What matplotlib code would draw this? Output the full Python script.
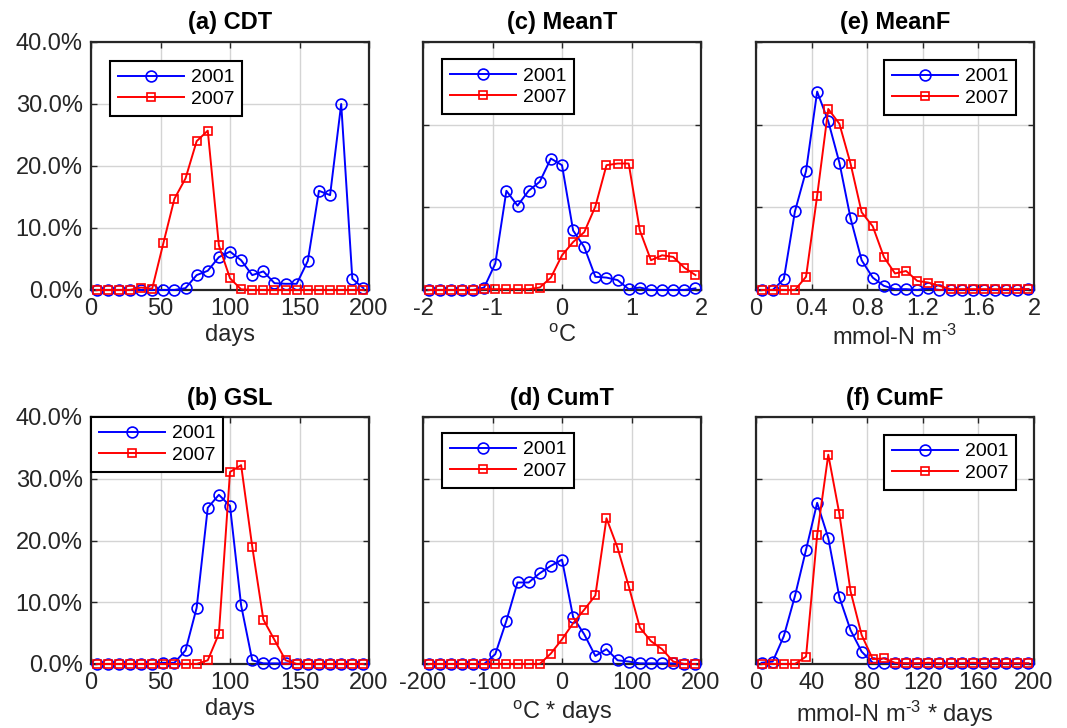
import matplotlib
matplotlib.use("Agg")
import matplotlib.pyplot as plt
from matplotlib.ticker import FuncFormatter

plt.rcParams["font.family"] = ["Liberation Sans", "DejaVu Sans"]
plt.rcParams["mathtext.default"] = "regular"

# ---------------- data (percent of ensemble members per bin) ----------------
days_x = [4, 12, 20, 28, 36, 44, 52, 60, 68, 76, 84, 92, 100, 108, 116, 124,
          132, 140, 148, 156, 164, 172, 180, 188, 196]
meant_x = [-1.92, -1.76, -1.60, -1.44, -1.28, -1.12, -0.96, -0.80, -0.64, -0.48,
           -0.32, -0.16, 0.00, 0.16, 0.32, 0.48, 0.64, 0.80, 0.96, 1.12, 1.28,
           1.44, 1.60, 1.76, 1.92]
meanf_x = [0.04, 0.12, 0.20, 0.28, 0.36, 0.44, 0.52, 0.60, 0.68, 0.76, 0.84,
           0.92, 1.00, 1.08, 1.16, 1.24, 1.32, 1.40, 1.48, 1.56, 1.64, 1.72,
           1.80, 1.88, 1.96]
cumt_x = [-192, -176, -160, -144, -128, -112, -96, -80, -64, -48, -32, -16, 0,
          16, 32, 48, 64, 80, 96, 112, 128, 144, 160, 176, 192]
cumf_x = [4, 12, 20, 28, 36, 44, 52, 60, 68, 76, 84, 92, 100, 108, 116, 124,
          132, 140, 148, 156, 164, 172, 180, 188, 196]

cdt_2001 = [0, 0, 0, 0, 0, 0, 0, 0, 0.3, 2.4, 3.1, 5.3, 6.2, 4.8, 2.4, 3.0,
            1.1, 1.0, 1.0, 4.7, 16.0, 15.3, 30.0, 1.8, 0.3]
cdt_2007 = [0, 0, 0, 0, 0.4, 0.2, 7.5, 14.7, 18.0, 24.0, 25.7, 7.2, 1.9, 0.1,
            0, 0, 0, 0, 0, 0, 0, 0, 0, 0, 0]

gsl_2001 = [0, 0, 0, 0, 0, 0, 0.2, 0.2, 2.2, 9.1, 25.3, 27.4, 25.6, 9.5, 0.6,
            0.1, 0.1, 0.1, 0, 0, 0, 0, 0, 0, 0]
gsl_2007 = [0, 0, 0, 0, 0, 0, 0, 0, 0, 0, 0.6, 4.9, 31.1, 32.2, 19.0, 7.2, 3.9,
            0.6, 0, 0, 0, 0, 0, 0, 0]

meant_2001 = [0, 0, 0, 0, 0, 0.3, 3.2, 12.0, 10.2, 12.0, 13.1, 15.9, 15.1, 7.2,
              5.2, 1.6, 1.5, 1.2, 0.1, 0.3, 0, 0, 0, 0, 0.2]
meant_2007 = [0, 0, 0, 0, 0, 0.1, 0.1, 0.1, 0.1, 0.1, 0.3, 1.5, 4.2, 5.8, 7.0,
              10.1, 15.1, 15.3, 15.3, 7.2, 3.6, 4.2, 4.0, 2.7, 1.8]

cumt_2001 = [0, 0, 0, 0, 0, 0, 1.6, 7.0, 13.2, 13.2, 14.7, 15.9, 16.9, 7.6,
             4.8, 1.3, 2.4, 0.6, 0.4, 0.1, 0.1, 0.1, 0.1, 0, 0]
cumt_2007 = [0, 0, 0, 0, 0, 0, 0, 0, 0, 0, 0, 1.7, 4.0, 6.6, 8.8, 11.1, 23.6,
             18.8, 12.6, 5.9, 3.7, 2.4, 0.4, 0, 0]

meanf_2001 = [0, 0, 1.3, 9.5, 14.4, 24.0, 20.4, 15.4, 8.7, 3.6, 1.5, 0.5, 0.1,
              0.1, 0, 0.2, 0, 0, 0, 0, 0, 0, 0, 0, 0.1]
meanf_2007 = [0, 0, 0, 0, 1.6, 11.4, 21.9, 20.1, 15.3, 9.4, 7.7, 4.0, 2.0, 2.3,
              1.1, 0.9, 0.5, 0.1, 0.1, 0.1, 0.1, 0.1, 0.1, 0.1, 0.1]

cumf_2001 = [0.2, 0.4, 4.5, 11.0, 18.5, 26.1, 20.4, 10.8, 5.5, 2.0, 0.2, 0.2,
             0.1, 0.1, 0.1, 0.1, 0.1, 0.1, 0.1, 0.1, 0.1, 0.1, 0.1, 0.1, 0.1]
cumf_2007 = [0, 0, 0, 0, 1.2, 20.9, 33.9, 24.3, 11.8, 4.7, 0.8, 0.9, 0.2, 0.1,
             0.1, 0.2, 0.1, 0.1, 0.1, 0.2, 0.1, 0.1, 0.1, 0.1, 0.1]

years = ["2001", "2007"]

# ---------------- panel definitions ----------------
# pixel layout of the 2x3 grid (figure is 1067 x 728)
W, H = 1067.0, 728.0
cols = [91, 423, 756]
top_row = (42, 290)
bot_row = (417, 664)

HY = "\u2010"  # plain hyphen, so the superscript reads "-3" like the original

panels = [
    ("(a) CDT", days_x, cdt_2001, cdt_2007, (0, 200), [0, 50, 100, 150, 200],
     ["0", "50", "100", "150", "200"], "days", 40, (cols[0], top_row),
     "upper left", (0.068, 0.923)),
    ("(b) GSL", days_x, gsl_2001, gsl_2007, (0, 200), [0, 50, 100, 150, 200],
     ["0", "50", "100", "150", "200"], "days", 40, (cols[0], bot_row),
     "upper left", (0.0, 1.0)),
    ("(c) MeanT", meant_x, meant_2001, meant_2007, (-2, 2), [-2, -1, 0, 1, 2],
     ["-2", "-1", "0", "1", "2"], "$^o$C", 30, (cols[1], top_row),
     "upper left", (0.068, 0.93)),
    ("(d) CumT", cumt_x, cumt_2001, cumt_2007, (-200, 200), [-200, -100, 0, 100, 200],
     ["-200", "-100", "0", "100", "200"], "$^o$C * days", 40, (cols[1], bot_row),
     "upper left", (0.068, 0.935)),
    ("(e) MeanF", meanf_x, meanf_2001, meanf_2007, (0, 2), [0, 0.4, 0.8, 1.2, 1.6, 2],
     ["0", "0.4", "0.8", "1.2", "1.6", "2"], "mmol-N m$^{" + HY + "3}$", 30,
     (cols[2], top_row), "upper right", (0.935, 0.927)),
    ("(f) CumF", cumf_x, cumf_2001, cumf_2007, (0, 200), [0, 40, 80, 120, 160, 200],
     ["0", "40", "80", "120", "160", "200"], "mmol-N m$^{" + HY + "3}$ * days", 40,
     (cols[2], bot_row), "upper right", (0.935, 0.927)),
]

fig = plt.figure(figsize=(W / 100, H / 100), dpi=100)
axcol = "#262626"

for (title, xs, y1, y2, xlim, xt, xtl, xlab, ymax, (left, (ytop, ybot)),
     loc, anchor) in panels:
    ax = fig.add_axes([left / W, 1 - ybot / H, 278 / W, (ybot - ytop) / H])
    ax.plot(xs, y1, "-o", color="blue", lw=1.4, ms=7.8, mfc="none", mew=1.2,
            clip_on=False, zorder=3, label=years[0])
    ax.plot(xs, y2, "-s", color="red", lw=1.4, ms=5.5, mfc="none", mew=1.2,
            clip_on=False, zorder=3, label=years[1])

    ax.set_xlim(*xlim)
    ax.set_ylim(0, ymax)
    ax.set_xticks(xt)
    ax.set_xticklabels(xtl)
    ax.set_yticks([v for v in [0, 10, 20, 30, 40] if v <= ymax])
    if left == cols[0]:
        ax.yaxis.set_major_formatter(FuncFormatter(lambda v, p: "%.1f%%" % v))
    else:
        ax.set_yticklabels([])

    ax.grid(True, color="#d4d4d4", lw=1.0)
    ax.set_axisbelow(True)
    ax.tick_params(direction="in", length=4, width=1.0, colors=axcol,
                   labelcolor=axcol, labelsize=17, top=True, right=True)
    ax.tick_params(axis="x", pad=6)
    ax.tick_params(axis="y", pad=6)
    for s in ax.spines.values():
        s.set_color(axcol)
        s.set_linewidth(1.6)

    ax.set_title(title, fontsize=17, fontweight="bold", pad=9)
    ax.set_xlabel(xlab, fontsize=17, color=axcol, labelpad=3)

    leg = ax.legend(loc=loc, bbox_to_anchor=anchor, borderaxespad=0,
                    fontsize=14, fancybox=False, framealpha=1,
                    edgecolor="black", handlelength=3.4, handletextpad=0.35,
                    borderpad=0.4, labelspacing=0.2)
    leg.get_frame().set_linewidth(1.5)

plt.savefig("out.png", dpi=100)
